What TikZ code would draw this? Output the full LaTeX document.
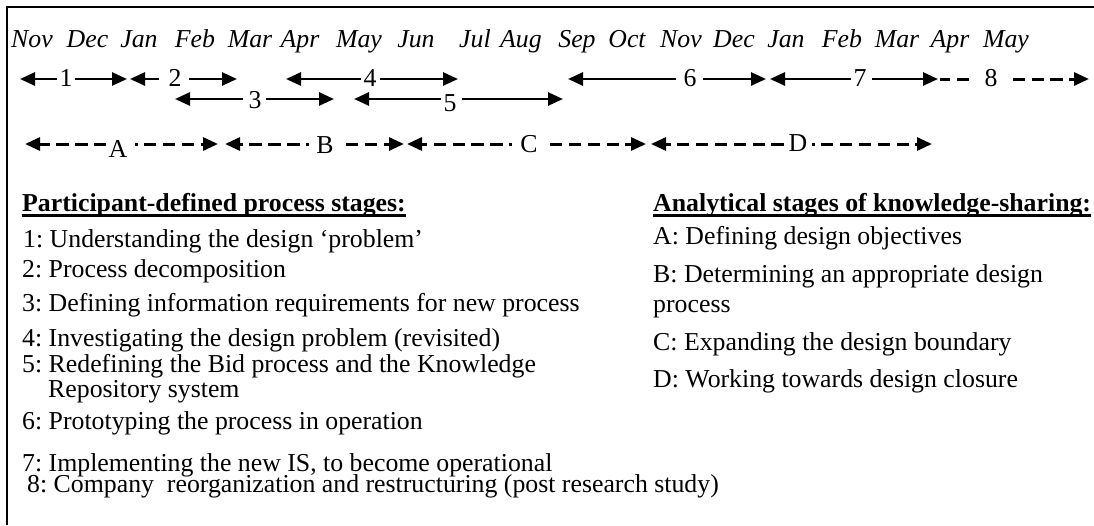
\documentclass[tikz,border=0pt]{standalone}
\usepackage{fontspec}
\setmainfont{Liberation Serif}
\usetikzlibrary{arrows.meta}
\newcommand\fsz{\fontsize{25.8}{30}\selectfont\frenchspacing}
\begin{document}
\begin{tikzpicture}[x=1pt,y=-1pt,
  txt/.style={inner sep=0pt,anchor=base west,font=\fsz},
  hd/.style={inner sep=0pt,anchor=base west,font=\fsz\bfseries},
  mon/.style={inner sep=0pt,anchor=base,font=\fsz\itshape},
  lab/.style={inner sep=0pt,anchor=base,font=\fsz},
  tip/.style={-{Triangle[length=15pt,width=13pt]}},
  sline/.style={line width=2.6pt},
  dline/.style={line width=3pt,dash pattern=on 12.5pt off 6.4pt},
  uline/.style={line width=2.6pt},
  frame/.style={line width=2pt}]
\useasboundingbox (0,0) rectangle (1094,525);
\draw[frame] (7,525) -- (7,7) -- (1094,7);
% months
\foreach \x/\m [count=\i] in {32/Nov,87.5/Dec,139/Jan,195/Feb,250/Mar,300/Apr,359/May,416/Jun,475/Jul,521/Aug,577/Sep,627/Oct,681/Nov,734/Dec,786/Jan,842/Feb,897/Mar,950/Apr,1006/May}
  \node[mon] (m\i) at (\x,47) {\m};
% row 1
\node[lab] (n1) at (66,86) {1};
\coordinate (a1l) at (20,79); \coordinate (a1r) at (127,79);
\draw[sline,tip,shorten <=2.5pt] (n1.west |- a1l) -- (a1l);
\draw[sline,tip,shorten <=2.5pt] (n1.east |- a1r) -- (a1r);
\node[lab] (n2) at (175,86) {2};
\coordinate (a2l) at (130,79); \coordinate (a2r) at (237,79);
\draw[sline,tip,shorten <=9.5pt] (n2.west |- a2l) -- (a2l);
\draw[sline,tip,shorten <=7.5pt] (n2.east |- a2r) -- (a2r);
\node[lab] (n4) at (370,86) {4};
\coordinate (a4l) at (286,79); \coordinate (a4r) at (458,79);
\draw[sline,tip,shorten <=2.5pt] (n4.west |- a4l) -- (a4l);
\draw[sline,tip,shorten <=3.5pt] (n4.east |- a4r) -- (a4r);
\node[lab] (n6) at (690,86) {6};
\coordinate (a6l) at (568,79); \coordinate (a6r) at (766,79);
\draw[sline,tip,shorten <=7.5pt] (n6.west |- a6l) -- (a6l);
\draw[sline,tip,shorten <=6.5pt] (n6.east |- a6r) -- (a6r);
\node[lab] (n7) at (860,86) {7};
\coordinate (a7l) at (770,79); \coordinate (a7r) at (938,79);
\draw[sline,tip,shorten <=2.5pt] (n7.west |- a7l) -- (a7l);
\draw[sline,tip,shorten <=5.5pt] (n7.east |- a7r) -- (a7r);
\node[lab] (n8) at (991,86) {8};
\coordinate (a8l) at (940,79); \coordinate (a8r) at (1089,79);
\draw[dline,shorten <=15pt] (n8.west |- a8l) -- (a8l);
\draw[dline,tip,shorten <=15pt] (n8.east |- a8r) -- (a8r);
% row 2
\node[lab] (n3) at (255,108) {3};
\coordinate (a3l) at (175,99); \coordinate (a3r) at (334,99);
\draw[sline,tip,shorten <=5.5pt] (n3.west |- a3l) -- (a3l);
\draw[sline,tip,shorten <=4.5pt] (n3.east |- a3r) -- (a3r);
\node[lab] (n5) at (450,111) {5};
\coordinate (a5l) at (354,99); \coordinate (a5r) at (563,99);
\draw[sline,tip,shorten <=2.5pt] (n5.west |- a5l) -- (a5l);
\draw[sline,tip,shorten <=5.5pt] (n5.east |- a5r) -- (a5r);
% row 3
\node[lab] (nA) at (118,157) {A};
\coordinate (aAl) at (25,144); \coordinate (aAr) at (218,144);
\draw[dline,tip,shorten <=2pt] (nA.west |- aAl) -- (aAl);
\draw[dline,tip,shorten <=7.5pt,dash phase=10pt] (nA.east |- aAr) -- (aAr);
\node[lab] (nB) at (325,153) {B};
\coordinate (aBl) at (225,144); \coordinate (aBr) at (404,144);
\draw[dline,tip,shorten <=7.5pt,dash phase=10pt] (nB.west |- aBl) -- (aBl);
\draw[dline,tip,shorten <=12pt] (nB.east |- aBr) -- (aBr);
\node[lab] (nC) at (529,152) {C};
\coordinate (aCl) at (407,144); \coordinate (aCr) at (646,144);
\draw[dline,tip,shorten <=8.5pt,dash phase=10pt] (nC.west |- aCl) -- (aCl);
\draw[dline,tip,shorten <=12pt] (nC.east |- aCr) -- (aCr);
\node[lab] (nD) at (798,151) {D};
\coordinate (aDl) at (651,144); \coordinate (aDr) at (932,144);
\draw[dline,tip,shorten <=4.5pt] (nD.west |- aDl) -- (aDl);
\draw[dline,tip,shorten <=4.5pt,dash phase=10pt] (nD.east |- aDr) -- (aDr);
% left legend
\node[hd] (h1) at (22,211) {Participant-defined process stages:};
\draw[uline] ([yshift=-4.5pt]h1.base west) -- ([yshift=-4.5pt]h1.base east);
\node[txt] (p1) at (23,247) {1: Understanding the design ‘problem’};
\node[txt] (p2) at (22,277) {2: Process decomposition};
\node[txt] (p3) at (22,311) {3: Defining information requirements for new process};
\node[txt] (p4) at (22,346) {4: Investigating the design problem (revisited)};
\node[txt] (p5) at (22,372) {5: Redefining the Bid process and the Knowledge};
\node[txt] (p5b) at (48,397) {Repository system};
\node[txt] (p6) at (22,429) {6: Prototyping the process in operation};
\node[txt] (p7) at (22,471) {7: Implementing the new IS, to become operational};
\node[txt] (p8) at (27,492) {8: Company\ \ reorganization and restructuring (post research study)};
% right legend
\node[hd] (h2) at (653,211) {Analytical stages of knowledge-sharing:};
\draw[uline] ([yshift=-4.5pt]h2.base west) -- ([yshift=-4.5pt]h2.base east);
\node[txt] (qA) at (653,244) {A: Defining design objectives};
\node[txt] (qB) at (653,282) {B: Determining an appropriate design};
\node[txt] (qB2) at (653,312) {process};
\node[txt] (qC) at (653,350) {C: Expanding the design boundary};
\node[txt] (qD) at (653,387) {D: Working towards design closure};
\end{tikzpicture}
\end{document}
